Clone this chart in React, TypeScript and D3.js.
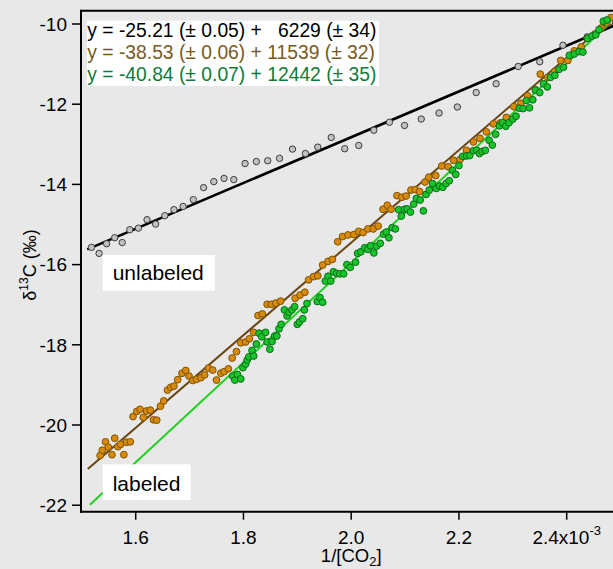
import React from 'react';
import * as d3 from 'd3';

const W = 613;
const H = 569;

const xTicks = [1.6, 1.8, 2.0, 2.2, 2.4];
const xTickLabels = ['1.6', '1.8', '2.0', '2.2', '2.4x10'];
const yTicks = [-10, -12, -14, -16, -18, -20, -22];

// unlabeled (gray)
const grayX = [1.518, 1.532, 1.546, 1.561, 1.575, 1.589, 1.605, 1.621, 1.637, 1.654, 1.671, 1.688, 1.707, 1.726, 1.745, 1.764, 1.782, 1.803, 1.824, 1.845, 1.867, 1.891, 1.915, 1.938, 1.963, 1.988, 2.014, 2.042, 2.071, 2.099, 2.130, 2.163, 2.197, 2.232, 2.269, 2.310, 2.350, 2.393, 2.438, 2.480];
const grayY = [-15.57, -15.72, -15.48, -15.33, -15.45, -15.13, -15.09, -14.88, -14.99, -14.78, -14.63, -14.55, -14.38, -14.08, -13.93, -13.85, -13.88, -13.48, -13.43, -13.41, -13.35, -13.12, -13.23, -13.07, -12.83, -13.11, -13.03, -12.65, -12.45, -12.53, -12.37, -12.22, -12.07, -11.71, -11.49, -11.06, -10.94, -10.53, -10.32, -9.95];

// labeled (brown)
const brownX = [1.534, 1.538, 1.544, 1.549, 1.556, 1.561, 1.567, 1.572, 1.578, 1.583, 1.590, 1.595, 1.602, 1.608, 1.614, 1.620, 1.627, 1.633, 1.639, 1.646, 1.652, 1.659, 1.665, 1.671, 1.678, 1.686, 1.693, 1.699, 1.706, 1.713, 1.721, 1.728, 1.735, 1.743, 1.750, 1.758, 1.764, 1.772, 1.779, 1.787, 1.795, 1.804, 1.811, 1.819, 1.827, 1.835, 1.844, 1.852, 1.860, 1.869, 1.896, 1.905, 1.914, 1.921, 1.930, 1.938, 1.947, 1.957, 1.965, 1.975, 1.984, 1.994, 2.005, 2.014, 2.022, 2.031, 2.041, 2.050, 2.059, 2.067, 2.074, 2.085, 2.094, 2.102, 2.111, 2.119, 2.127, 2.137, 2.144, 2.157, 2.168, 2.180, 2.190, 2.202, 2.214, 2.227, 2.239, 2.251, 2.264, 2.276, 2.288, 2.302, 2.315, 2.327, 2.342, 2.351, 2.365, 2.378, 2.389, 2.402, 2.414, 2.427, 2.438, 2.452, 2.464, 2.474, 2.482];
const brownY = [-20.76, -20.63, -20.42, -20.55, -20.74, -20.33, -20.54, -20.48, -20.74, -20.43, -20.42, -19.79, -19.66, -19.61, -19.81, -19.65, -19.63, -19.87, -19.88, -19.53, -19.40, -19.13, -19.06, -19.03, -18.87, -18.71, -18.64, -18.78, -18.89, -18.86, -18.82, -18.75, -18.58, -18.63, -18.88, -18.71, -18.67, -18.60, -18.33, -18.17, -17.95, -17.93, -17.85, -17.69, -17.27, -17.23, -16.99, -16.99, -16.96, -16.91, -16.84, -16.76, -16.69, -16.38, -16.30, -16.28, -16.01, -15.92, -15.87, -15.43, -15.30, -15.26, -15.25, -15.17, -15.20, -15.11, -15.11, -15.04, -14.62, -14.52, -14.62, -14.28, -14.32, -14.29, -14.14, -14.13, -14.18, -13.94, -13.82, -13.78, -13.54, -13.56, -13.40, -13.38, -13.15, -12.94, -12.85, -12.69, -12.49, -12.47, -12.33, -12.06, -11.98, -11.79, -11.64, -11.25, -11.33, -11.18, -10.91, -10.91, -10.67, -10.57, -10.36, -10.25, -10.10, -9.97, -9.84];

// labeled (green)
const greenX = [1.780, 1.784, 1.789, 1.795, 1.799, 1.804, 1.807, 1.810, 1.816, 1.819, 1.824, 1.829, 1.834, 1.841, 1.844, 1.849, 1.853, 1.858, 1.862, 1.866, 1.870, 1.876, 1.881, 1.885, 1.890, 1.895, 1.900, 1.904, 1.910, 1.913, 1.918, 1.937, 1.942, 1.947, 1.952, 1.957, 1.962, 1.967, 1.973, 1.979, 1.986, 1.992, 1.998, 2.008, 2.012, 2.018, 2.025, 2.031, 2.036, 2.042, 2.047, 2.054, 2.060, 2.065, 2.070, 2.076, 2.082, 2.088, 2.093, 2.099, 2.104, 2.110, 2.116, 2.121, 2.128, 2.134, 2.139, 2.145, 2.151, 2.158, 2.164, 2.170, 2.176, 2.182, 2.188, 2.194, 2.200, 2.207, 2.214, 2.220, 2.227, 2.233, 2.238, 2.243, 2.249, 2.256, 2.262, 2.268, 2.275, 2.281, 2.287, 2.293, 2.300, 2.306, 2.312, 2.319, 2.325, 2.331, 2.337, 2.342, 2.350, 2.357, 2.364, 2.370, 2.378, 2.386, 2.394, 2.405, 2.414, 2.423, 2.430, 2.439, 2.447, 2.454, 2.460, 2.468, 2.475];
const greenY = [-18.78, -18.88, -18.74, -18.85, -18.57, -18.48, -18.38, -18.30, -18.14, -18.28, -17.98, -17.71, -17.80, -17.69, -17.93, -18.11, -17.92, -17.78, -17.78, -17.60, -17.49, -17.13, -17.28, -17.19, -17.13, -17.05, -17.49, -17.43, -17.35, -17.13, -16.97, -16.92, -16.82, -16.94, -16.41, -16.29, -16.41, -16.18, -16.22, -16.23, -16.23, -16.00, -16.07, -15.94, -15.72, -15.68, -15.58, -15.62, -15.53, -15.71, -15.54, -15.47, -15.24, -15.19, -15.33, -15.08, -15.11, -14.63, -14.79, -14.62, -14.61, -14.69, -14.49, -14.35, -14.39, -14.66, -14.25, -14.14, -13.98, -14.10, -14.04, -14.07, -13.98, -13.91, -13.65, -13.75, -13.53, -13.30, -13.29, -13.28, -13.16, -13.15, -13.23, -13.18, -13.15, -12.90, -13.02, -12.75, -12.54, -12.46, -12.55, -12.46, -12.37, -12.30, -12.10, -12.11, -11.91, -12.09, -11.89, -11.65, -11.71, -11.49, -11.57, -11.33, -11.28, -11.13, -11.08, -10.78, -10.75, -10.69, -10.70, -10.36, -10.30, -10.27, -10.14, -9.93, -9.90];

// fit lines (start / end)
const fitBlackX = [1.510, 2.5];
const fitBlackY = [-15.62, -9.97];
const fitBrownX = [1.511, 2.5];
const fitBrownY = [-21.095, -9.683];
const fitGreenX = [1.515, 2.5];
const fitGreenY = [-21.99, -9.735];

const equations = [
  'y = -25.21 (\u00B1 0.05) +   6229 (\u00B1 34)',
  'y = -38.53 (\u00B1 0.06) + 11539 (\u00B1 32)',
  'y = -40.84 (\u00B1 0.07) + 12442 (\u00B1 35)',
];
const equationColors = ['#000000', '#7a5a1c', '#0f7a3c'];

const FONT = '"Liberation Sans", Arial, Helvetica, sans-serif';

export default function App() {
  const left = 81;
  const top = 10.7;
  const bottom = 511.7;
  const right = 613;

  const x = d3.scaleLinear().domain([1.6, 2.4]).range([135.7, 566.7]);
  const y = d3.scaleLinear().domain([-10, -22]).range([24, 505.2]);

  const line = d3
    .line<[number, number]>()
    .x((d) => x(d[0]))
    .y((d) => y(d[1]));

  const pairs = (xs: number[], ys: number[]) =>
    xs.map((v, i) => [v, ys[i]] as [number, number]);

  const gray = pairs(grayX, grayY);
  const brown = pairs(brownX, brownY);
  const green = pairs(greenX, greenY);

  const bg = '#e8e8e8';

  return (
    <svg
      width={W}
      height={H}
      style={{ position: 'absolute', left: 0, top: 0, display: 'block' }}
      fontFamily={FONT}
    >
      <defs>
        <clipPath id="plotClip">
          <rect x={left} y={top} width={right - left + 10} height={bottom - top} />
        </clipPath>
      </defs>
      <rect x={0} y={0} width={W} height={H} fill={bg} />

      <g clipPath="url(#plotClip)">
        <path d={line(pairs(fitBlackX, fitBlackY)) || ''} stroke="#000" strokeWidth={2.6} fill="none" />
        <path d={line(pairs(fitBrownX, fitBrownY)) || ''} stroke="#6b4510" strokeWidth={2} fill="none" />
        <path d={line(pairs(fitGreenX, fitGreenY)) || ''} stroke="#1fd21f" strokeWidth={2} fill="none" />

        {gray.map((d, i) => (
          <circle key={'g' + i} cx={x(d[0])} cy={y(d[1])} r={3.2} fill="#c2c2c2" stroke="#3a3a3a" strokeWidth={1} />
        ))}
        {brown.map((d, i) => (
          <circle key={'b' + i} cx={x(d[0])} cy={y(d[1])} r={3.4} fill="#d88a0c" stroke="#7f5200" strokeWidth={1} />
        ))}
        {green.map((d, i) => (
          <circle key={'n' + i} cx={x(d[0])} cy={y(d[1])} r={3.4} fill="#17c52a" stroke="#0a6b18" strokeWidth={1} />
        ))}
      </g>

      {/* frame */}
      <line x1={left} x2={right} y1={top} y2={top} stroke="#000" strokeWidth={2} />
      <line x1={left} x2={left} y1={top - 1} y2={bottom + 1} stroke="#000" strokeWidth={2} />
      <line x1={left - 1} x2={right} y1={bottom} y2={bottom} stroke="#000" strokeWidth={2} />

      {/* y ticks */}
      {yTicks.map((t) => (
        <g key={'yt' + t}>
          <line x1={left - 9} x2={left} y1={y(t)} y2={y(t)} stroke="#000" strokeWidth={1.5} />
          <text x={left - 14} y={y(t)} dy="0.36em" textAnchor="end" fontSize={19} fill="#000">
            {t}
          </text>
        </g>
      ))}

      {/* x ticks */}
      {xTicks.map((t, i) => (
        <g key={'xt' + t}>
          <line x1={x(t)} x2={x(t)} y1={bottom} y2={bottom + 8} stroke="#000" strokeWidth={1.5} />
          <text x={x(t)} y={543.5} textAnchor="middle" fontSize={19} fill="#000">
            {xTickLabels[i]}
            {i === xTicks.length - 1 ? (
              <tspan fontSize={13} dy={-9}>
                -3
              </tspan>
            ) : null}
          </text>
        </g>
      ))}

      {/* axis titles */}
      <text x={x(2.0)} y={561.5} textAnchor="middle" fontSize={18.5} fill="#000">
        1/[CO
        <tspan fontSize={13} dy={4}>2</tspan>
        <tspan dy={-4}>]</tspan>
      </text>
      <text transform="translate(36,265) rotate(-90)" textAnchor="middle" fontSize={18} fill="#000">
        {'\u03B4'}
        <tspan fontSize={12} dy={-8}>13</tspan>
        <tspan dy={8}>C (‰)</tspan>
      </text>

      {/* equation box */}
      <rect x={87} y={20.7} width={292} height={65.3} fill="#fff" />
      {equations.map((e, i) => (
        <text
          key={'eq' + i}
          x={87.3}
          y={36.8 + i * 22}
          fontSize={19.3}
          fill={equationColors[i]}
          xmlSpace="preserve"
          style={{ whiteSpace: 'pre' }}
        >
          {e}
        </text>
      ))}

      {/* annotation boxes */}
      <rect x={102.7} y={255} width={112.3} height={35.7} fill="#fff" />
      <text x={112.7} y={280} fontSize={21} fill="#000">unlabeled</text>
      <rect x={102.7} y={464.3} width={88} height={35.7} fill="#fff" />
      <text x={112.7} y={490.5} fontSize={21} fill="#000">labeled</text>
    </svg>
  );
}
